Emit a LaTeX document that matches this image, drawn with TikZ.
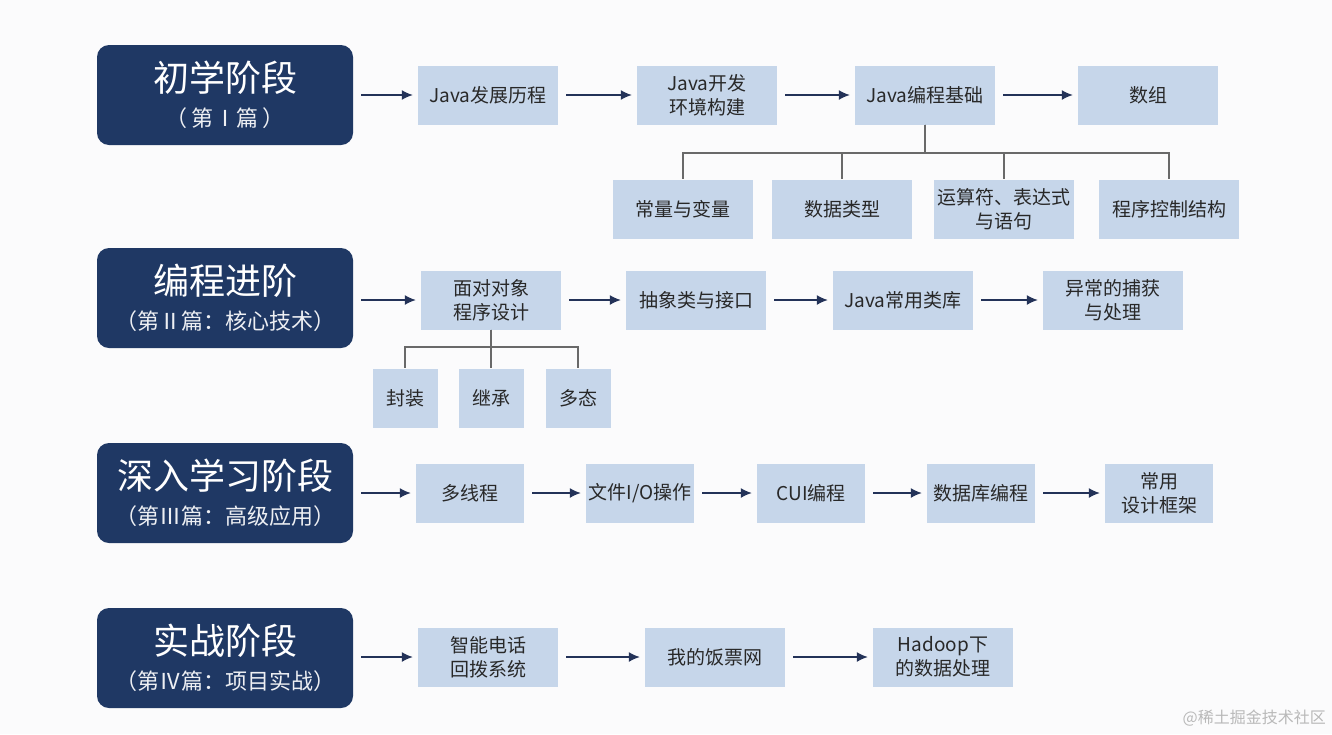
\documentclass[tikz,border=0pt]{standalone}
\usepackage{fontspec}
\setmainfont{Noto Sans CJK SC}
\usepackage{tikz}
\usetikzlibrary{arrows.meta,positioning}
\definecolor{darknavy}{RGB}{31,56,100}
\definecolor{paleblue}{RGB}{198,214,234}
\definecolor{arrowblue}{RGB}{35,50,88}
\definecolor{bggray}{RGB}{251,251,252}
\definecolor{textgray}{RGB}{40,40,40}
\definecolor{linegray}{RGB}{105,105,105}
\begin{document}
\begin{tikzpicture}[x=1pt,y=-1pt,
  stage/.style={fill=darknavy,rounded corners=12pt,minimum width=256pt,minimum height=100pt,inner sep=0pt},
  title/.style={text=white,inner sep=0pt,font=\fontsize{36}{40}\selectfont},
  subtitle/.style={text=white!92!darknavy,inner sep=0pt,font=\fontsize{22}{24}\selectfont},
  item/.style={fill=paleblue,minimum width=140pt,minimum height=59pt,text=textgray,align=center,inner sep=2pt,font=\fontsize{19}{24}\selectfont},
  short/.style={item,minimum width=108pt},
  leaf/.style={item,minimum width=65pt},
  flow/.style={-{Latex[length=11pt,width=10pt]},arrowblue,line width=1.4pt,shorten <=8pt,shorten >=5pt},
  branch/.style={linegray,line width=1.6pt}]
          % background
          \fill[bggray] (0,0) rectangle (1332,734);
          \useasboundingbox (0,0) rectangle (1332,734);
          % stages
          \node[stage] (s1) at (225,95) {};
          \node[title] (s1t) at ([yshift=17pt]s1.center) {初学阶段};
          \node[subtitle] (s1s) at ([yshift=-23pt]s1.center) {（ 第Ⅰ篇 ）};
          \node[stage] (s2) at (225,298) {};
          \node[title] (s2t) at ([yshift=17pt]s2.center) {编程进阶};
          \node[subtitle] (s2s) at ([yshift=-23pt]s2.center) {（第Ⅱ篇：核心技术）};
          \node[stage] (s3) at (225,493) {};
          \node[title] (s3t) at ([yshift=17pt]s3.center) {深入学习阶段};
          \node[subtitle] (s3s) at ([yshift=-23pt]s3.center) {（第Ⅲ篇：高级应用）};
          \node[stage] (s4) at (225,658) {};
          \node[title] (s4t) at ([yshift=17pt]s4.center) {实战阶段};
          \node[subtitle] (s4s) at ([yshift=-23pt]s4.center) {（第Ⅳ篇：项目实战）};
          % row 1
          \node[item] (b11) at (488,95) {Java发展历程};
          \node[item] (b12) at (707,95) {Java开发\\环境构建};
          \node[item] (b13) at (925,95) {Java编程基础};
          \node[item] (b14) at (1148,95) {数组};
          \node[item] (c11) at (683,209) {常量与变量};
          \node[item] (c12) at (842,209) {数据类型};
          \node[item] (c13) at (1004,209) {运算符、表达式\\与语句};
          \node[item] (c14) at (1169,209) {程序控制结构};
          % row 2
          \node[item] (b21) at (491,300) {面对对象\\程序设计};
          \node[item] (b22) at (696,300) {抽象类与接口};
          \node[item] (b23) at (903,300) {Java常用类库};
          \node[item] (b24) at (1113,300) {异常的捕获\\与处理};
          \node[leaf] (c21) at (405,398) {封装};
          \node[leaf] (c22) at (491,398) {继承};
          \node[leaf] (c23) at (578,398) {多态};
          % row 3
          \node[short] (b31) at (470,493) {多线程};
          \node[short] (b32) at (640,493) {文件I/O操作};
          \node[short] (b33) at (811,493) {CUI编程};
          \node[short] (b34) at (981,493) {数据库编程};
          \node[short] (b35) at (1159,493) {常用\\设计框架};
          % row 4
          \node[item] (b41) at (488,657) {智能电话\\回拨系统};
          \node[item] (b42) at (715,657) {我的饭票网};
          \node[item] (b43) at (943,657) {Hadoop下\\的数据处理};
          % arrows
          \draw[flow] (s1) -- (b11);
          \draw[flow] (b11) -- (b12);
          \draw[flow] (b12) -- (b13);
          \draw[flow] (b13) -- (b14);
          \draw[flow] (s2.east |- b21) -- (b21);
          \draw[flow] (b21) -- (b22);
          \draw[flow] (b22) -- (b23);
          \draw[flow] (b23) -- (b24);
          \draw[flow] (s3) -- (b31);
          \draw[flow] (b31) -- (b32);
          \draw[flow] (b32) -- (b33);
          \draw[flow] (b33) -- (b34);
          \draw[flow] (b34) -- (b35);
          \draw[flow] (s4.east |- b41) -- (b41);
          \draw[flow] (b41) -- (b42);
          \draw[flow] (b42) -- (b43);
          % branches
          \draw[branch] (b13.south) -- ++(0,28) -| (c11.north);
          \draw[branch] (b13.south) -- ++(0,28) -| (c12.north);
          \draw[branch] (b13.south) -- ++(0,28) -| (c13.north);
          \draw[branch] (b13.south) -- ++(0,28) -| (c14.north);
          \draw[branch] (b21.south) -- ++(0,17) -| (c21.north);
          \draw[branch] (b21.south) -- (c22.north);
          \draw[branch] (b21.south) -- ++(0,17) -| (c23.north);
          % watermark
          \node[anchor=east,text=gray!55,inner sep=0pt,font=\fontsize{16}{18}\selectfont] (wm) at (1326,718) {@稀土掘金技术社区};
        \end{tikzpicture}
\end{document}
